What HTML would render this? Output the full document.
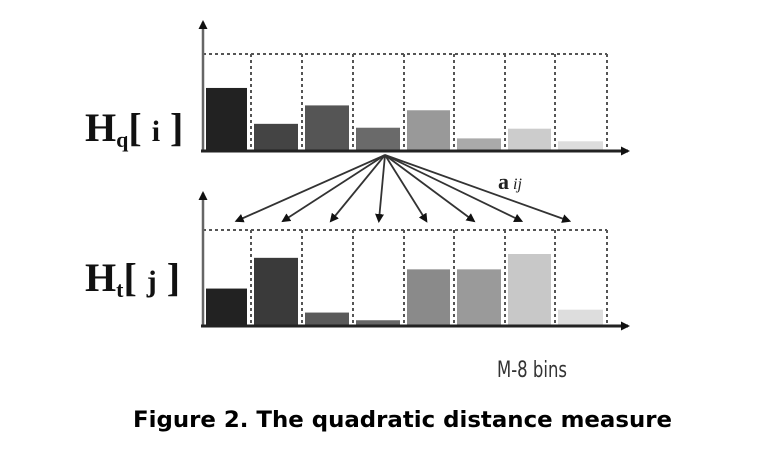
<!DOCTYPE html>
<html><head><meta charset="utf-8"><style>
body{margin:0;background:#fff;}
svg{display:block}
</style></head><body>
<svg id="c" width="770" height="450" xmlns="http://www.w3.org/2000/svg">
<defs>
<marker id="ah" markerWidth="9" markerHeight="9" refX="7" refY="4.5" orient="auto" markerUnits="userSpaceOnUse"><path d="M0,0 L9,4.5 L0,9 z" fill="#111"/></marker>
</defs>
<text x="85" y="141" font-family="Liberation Serif, serif" font-weight="bold" font-size="40" fill="#111">H<tspan font-size="22" dy="6">q</tspan><tspan dy="-6">[ </tspan><tspan font-size="30">i</tspan> ]</text>
<text x="85" y="291" font-family="Liberation Serif, serif" font-weight="bold" font-size="40" fill="#111">H<tspan font-size="22" dy="6">t</tspan><tspan dy="-6">[ </tspan><tspan font-size="30">j</tspan> ]</text>
<text x="498" y="189" font-family="Liberation Serif, serif" font-size="22" fill="#222"><tspan font-weight="bold">a</tspan><tspan font-style="italic" font-size="16"> ij</tspan></text>
<text x="0" y="0" transform="translate(497,377) scale(0.75,1)" font-family="DejaVu Sans, sans-serif" font-size="22" fill="#333">M-8 bins</text>
<text x="133" y="427" textLength="539" lengthAdjust="spacingAndGlyphs" font-family="DejaVu Sans, sans-serif" font-weight="bold" font-size="22" fill="#000">Figure 2. The quadratic distance measure</text>
<g id="g"></g>
</svg>
<script>
const bins = [0,1,2,3,4,5,6,7];
const hq = [0.65,0.28,0.47,0.24,0.42,0.13,0.23,0.10];
const ht = [0.39,0.71,0.14,0.06,0.59,0.59,0.75,0.17];
const hqColors = ['#222','#444','#555','#6a6a6a','#999','#aaa','#ccc','#ddd'];
const htColors = ['#222','#3a3a3a','#5a5a5a','#666','#8a8a8a','#9a9a9a','#c8c8c8','#ddd'];
const NS='http://www.w3.org/2000/svg';
const g=document.getElementById('g');
const edges=[203,251,302,353,404,454,505,555,607];
function xs(i){return edges[i];}
function mk(t,a){const e=document.createElementNS(NS,t);for(const k in a)e.setAttribute(k,a[k]);g.appendChild(e);return e;}
function panel(vals,cols,top,base,axTop,name){
  const h=base-top; const ys=v=>base-v*h;
  let r=mk('path',{d:`M203,${top} H607`,stroke:'#555','stroke-width':2,'stroke-dasharray':'3,3',fill:'none'});
  
  for(let i=1;i<edges.length;i++){
    let l=mk('line',{x1:edges[i],y1:top,x2:edges[i],y2:base,stroke:'#555','stroke-width':2,'stroke-dasharray':'3,3'});
    
  }
  bins.forEach(i=>{
    const x0=xs(i)+3,x1=xs(i+1)-4;
    let b=mk('rect',{x:x0,y:ys(vals[i]),width:x1-x0,height:base-ys(vals[i]),fill:cols[i]});
    
  });
  let ay=mk('line',{x1:203,y1:base,x2:203,y2:axTop,stroke:'#666','stroke-width':2.5,'marker-end':'url(#ah)'});
  
  let ax=mk('line',{x1:201,y1:base,x2:628,y2:base,stroke:'#222','stroke-width':3,'marker-end':'url(#ah)'});
  
}
panel(hq,hqColors,54,151,22,'hq');
panel(ht,htColors,230,326,193,'ht');
const src=[385,155];
bins.forEach(i=>{
  const c=(xs(i)+xs(i+1))/2;
  const tx=c+(src[0]-c)*0.06;
  let a=mk('line',{x1:src[0],y1:src[1],x2:tx,y2:221,stroke:'#333','stroke-width':1.8,'marker-end':'url(#ah)'});
  
});
</script>
</body></html>
